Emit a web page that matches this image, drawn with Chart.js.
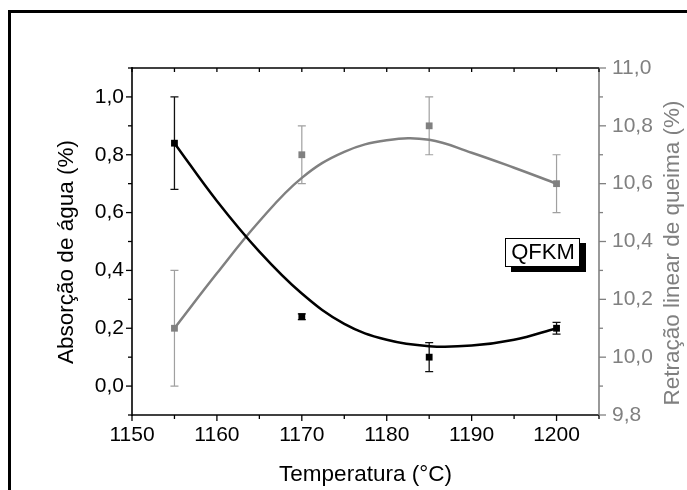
<!DOCTYPE html>
<html>
<head>
<meta charset="utf-8">
<script src="https://cdn.jsdelivr.net/npm/chart.js@4.4.1/dist/chart.umd.min.js"></script>
<style>
  html, body { margin: 0; padding: 0; background: #fff; }
</style>
</head>
<body>
<canvas id="chart" width="687" height="490"></canvas>
<script>
// Measured points (firing temperature, °C)
const temps = [1155, 1170, 1185, 1200];
const absorption = [0.84, 0.24, 0.10, 0.20];
const absorptionErr = [0.16, 0.01, 0.05, 0.02];
const shrinkage = [10.1, 10.7, 10.8, 10.6];
const shrinkageErr = [0.2, 0.1, 0.1, 0.1];

// Fitted curves, sampled along the temperature range
const fitTemps = [1155, 1160, 1165, 1170, 1175, 1180, 1185, 1190, 1195, 1200];
const absorptionFit = [0.84, 0.64, 0.465, 0.32, 0.215, 0.16, 0.138, 0.14, 0.16, 0.20];
const shrinkageFit = [10.10, 10.29, 10.47, 10.62, 10.71, 10.75, 10.752, 10.707, 10.655, 10.60];

// Axis ticks
const tempTicks = [1150, 1160, 1170, 1180, 1190, 1200];
const tempMinor = [1155, 1165, 1175, 1185, 1195, 1205];
const absorptionTicks = [0.0, 0.2, 0.4, 0.6, 0.8, 1.0];
const absorptionMinor = [-0.1, 0.1, 0.3, 0.5, 0.7, 0.9, 1.1];
const shrinkageTicks = [9.8, 10.0, 10.2, 10.4, 10.6, 10.8, 11.0];
const shrinkageMinor = [9.9, 10.1, 10.3, 10.5, 10.7, 10.9];

const FONT = "'Liberation Sans', Arial, Helvetica, sans-serif";
const GREY = '#808080';
const comma = v => v.toFixed(1).replace('.', ',');

const toXY = (xs, ys) => xs.map((x, i) => ({ x: x, y: ys[i] }));

function errorBars(ctx, xScale, yScale, vals, errs, color, width) {
    ctx.save();
    ctx.strokeStyle = color;
    ctx.lineWidth = width;
    vals.forEach((v, i) => {
        const px = xScale.getPixelForValue(temps[i]);
        const hi = yScale.getPixelForValue(v + errs[i]);
        const lo = yScale.getPixelForValue(v - errs[i]);
        ctx.beginPath();
        ctx.moveTo(px, hi); ctx.lineTo(px, lo);
        ctx.moveTo(px - 4, hi); ctx.lineTo(px + 4, hi);
        ctx.moveTo(px - 4, lo); ctx.lineTo(px + 4, lo);
        ctx.stroke();
    });
    ctx.restore();
}

function vTitle(ctx, text, x, y, color) {
    ctx.save();
    ctx.translate(x, y);
    ctx.rotate(-Math.PI / 2);
    ctx.fillStyle = color;
    ctx.font = '22.5px ' + FONT;
    ctx.textAlign = 'center';
    ctx.textBaseline = 'middle';
    ctx.fillText(text, 0, 0);
    ctx.restore();
}

const decor = {
    id: 'decor',
    beforeDatasetsDraw(chart) {
        const { ctx, scales } = chart;
        errorBars(ctx, scales.x, scales.y2, shrinkage, shrinkageErr, '#a0a0a0', 1.2);
        errorBars(ctx, scales.x, scales.y, absorption, absorptionErr, '#111', 1.3);
    },
    afterDraw(chart) {
        const { ctx, chartArea: a, scales } = chart;
        const { x, y, y2 } = scales;
        ctx.save();

        // outer frame
        ctx.fillStyle = '#000';
        ctx.fillRect(8, 10, 3, 480);
        ctx.fillRect(8, 10, 679, 3);

        ctx.lineWidth = 1.6;
        const line = (x1, y1, x2, y2c, c) => {
            ctx.strokeStyle = c;
            ctx.beginPath(); ctx.moveTo(x1, y1); ctx.lineTo(x2, y2c); ctx.stroke();
        };

        // axis lines
        line(a.left, a.top, a.right, a.top, '#000');
        line(a.left, a.bottom, a.right, a.bottom, '#000');
        line(a.left, a.top - 1, a.left, a.bottom + 1, '#000');
        line(a.right, a.top, a.right, a.bottom, GREY);

        // tick marks
        ctx.lineWidth = 1.3;
        tempTicks.forEach(v => {
            const p = x.getPixelForValue(v);
            line(p, a.bottom, p, a.bottom + 6, '#000');
            line(p, a.top, p, a.top + 4, '#000');
        });
        tempMinor.forEach(v => {
            const p = x.getPixelForValue(v);
            line(p, a.bottom, p, a.bottom + 4, '#000');
            line(p, a.top, p, a.top + 4, '#000');
        });
        absorptionTicks.forEach(v => {
            const p = y.getPixelForValue(v);
            line(a.left - 6, p, a.left, p, '#000');
        });
        absorptionMinor.forEach(v => {
            const p = y.getPixelForValue(v);
            line(a.left - 4, p, a.left, p, '#000');
        });
        shrinkageTicks.forEach(v => {
            const p = y2.getPixelForValue(v);
            line(a.right, p, a.right + 7, p, GREY);
        });
        shrinkageMinor.forEach(v => {
            const p = y2.getPixelForValue(v);
            line(a.right, p, a.right + 4, p, GREY);
        });

        // axis titles
        ctx.fillStyle = '#000';
        ctx.font = '22.5px ' + FONT;
        ctx.textAlign = 'center';
        ctx.textBaseline = 'middle';
        ctx.fillText('Temperatura (°C)', (a.left + a.right) / 2, 475);
        vTitle(ctx, 'Absorção de água (%)', 67, 252, '#000');
        vTitle(ctx, 'Retração linear de queima (%)', 673, 253, GREY);

        // sample label with drop shadow
        ctx.fillStyle = '#000';
        ctx.fillRect(511, 243, 75, 29);
        ctx.fillStyle = '#fff';
        ctx.fillRect(505, 238, 75, 29);
        ctx.lineWidth = 1;
        ctx.strokeStyle = '#000';
        ctx.strokeRect(505.5, 238.5, 74, 28);
        ctx.fillStyle = '#000';
        ctx.font = '22px ' + FONT;
        ctx.fillText('QFKM', 543, 253);

        ctx.restore();
    }
};

new Chart(document.getElementById('chart'), {
    type: 'scatter',
    data: {
        datasets: [
            {
                label: 'Absorção de água',
                data: toXY(temps, absorption),
                yAxisID: 'y',
                pointStyle: 'rect',
                pointRadius: 4.8,
                pointBorderWidth: 0,
                backgroundColor: '#000',
                borderColor: '#000',
                showLine: false,
                order: 0
            },
            {
                label: 'Retração linear de queima',
                data: toXY(temps, shrinkage),
                yAxisID: 'y2',
                pointStyle: 'rect',
                pointRadius: 4.8,
                pointBorderWidth: 0,
                backgroundColor: GREY,
                borderColor: GREY,
                showLine: false,
                order: 1
            },
            {
                label: 'Ajuste absorção',
                data: toXY(fitTemps, absorptionFit),
                yAxisID: 'y',
                showLine: true,
                tension: 0.4,
                borderColor: '#000',
                borderWidth: 2.5,
                pointRadius: 0,
                order: 2
            },
            {
                label: 'Ajuste retração',
                data: toXY(fitTemps, shrinkageFit),
                yAxisID: 'y2',
                showLine: true,
                tension: 0.4,
                borderColor: GREY,
                borderWidth: 2.5,
                pointRadius: 0,
                order: 3
            }
        ]
    },
    options: {
        responsive: false,
        animation: false,
        layout: { padding: { top: 68, left: 0, right: 0, bottom: 0 } },
        plugins: {
            legend: { display: false },
            tooltip: { enabled: false }
        },
        scales: {
            x: {
                type: 'linear',
                position: 'bottom',
                min: 1150,
                max: 1205,
                afterBuildTicks: s => { s.ticks = tempTicks.map(v => ({ value: v })); },
                afterFit: s => { s.height = 75; },
                grid: { display: false, drawTicks: false },
                border: { display: false },
                ticks: {
                    padding: 8,
                    color: '#000',
                    font: { family: FONT, size: 21 },
                    maxRotation: 0,
                    autoSkip: false,
                    callback: v => String(v)
                }
            },
            y: {
                type: 'linear',
                position: 'left',
                min: -0.1,
                max: 1.1,
                afterBuildTicks: s => { s.ticks = absorptionTicks.map(v => ({ value: v })); },
                afterFit: s => { s.width = 132; },
                grid: { display: false, drawTicks: false },
                border: { display: false },
                ticks: {
                    padding: 8,
                    color: '#000',
                    font: { family: FONT, size: 21 },
                    callback: v => comma(v)
                }
            },
            y2: {
                type: 'linear',
                position: 'right',
                min: 9.8,
                max: 11.0,
                afterBuildTicks: s => { s.ticks = shrinkageTicks.map(v => ({ value: v })); },
                afterFit: s => { s.width = 88; },
                grid: { display: false, drawTicks: false },
                border: { display: false },
                ticks: {
                    padding: 13,
                    color: GREY,
                    font: { family: FONT, size: 21 },
                    callback: v => comma(v)
                }
            }
        }
    },
    plugins: [decor]
});
</script>
</body>
</html>
